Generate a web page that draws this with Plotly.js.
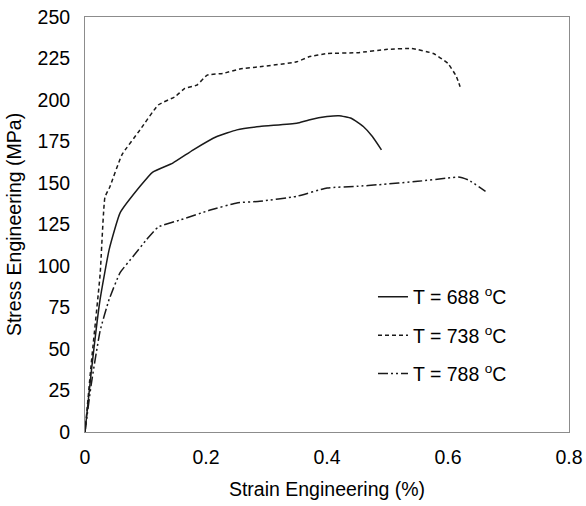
<!DOCTYPE html>
<html>
<head>
<meta charset="utf-8">
<script src="https://cdn.plot.ly/plotly-3.0.1.min.js"></script>
<style>html,body{margin:0;padding:0;background:#fff;}#chart{width:586px;height:506px;}</style>
</head>
<body>
<div id="chart"></div>
<script>
const names = ["T = 688 <sup>o</sup>C", "T = 738 <sup>o</sup>C", "T = 788 <sup>o</sup>C"];

const strain688 = [0, 0.01, 0.025, 0.04, 0.058, 0.091, 0.112, 0.145, 0.179, 0.218, 0.251, 0.289, 0.35, 0.37, 0.4, 0.42, 0.44, 0.46, 0.475, 0.49];
const stress688 = [0, 35, 80, 110, 132, 148, 156.6, 162, 170, 178, 182, 184, 186, 188, 190, 190.5, 189, 184, 178, 170];

const strain738 = [0, 0.01, 0.025, 0.033, 0.041, 0.061, 0.091, 0.121, 0.149, 0.165, 0.185, 0.202, 0.228, 0.256, 0.289, 0.35, 0.37, 0.4, 0.45, 0.5, 0.54, 0.576, 0.6, 0.614, 0.62];
const stress738 = [0, 40, 95, 141.5, 147.6, 167, 182, 197, 202, 207, 209, 215, 216, 218.7, 220, 223, 226, 228, 228.5, 230.5, 231, 228, 222, 214, 208];

const strain788 = [0, 0.01, 0.025, 0.04, 0.058, 0.08, 0.102, 0.121, 0.157, 0.207, 0.251, 0.289, 0.35, 0.4, 0.45, 0.486, 0.55, 0.6, 0.617, 0.634, 0.662];
const stress788 = [0, 28, 61, 80, 96, 106, 116, 123.5, 127.7, 133.7, 138, 139, 142, 147, 148, 149, 151, 153, 153.6, 151.8, 145];

const xTicks = [0, 0.2, 0.4, 0.6, 0.8];
const xTickLabels = ["0", "0.2", "0.4", "0.6", "0.8"];
const yTicks = [0, 25, 50, 75, 100, 125, 150, 175, 200, 225, 250];

const lineColor = "#1a1a1a";
const traces = [
  {x: strain688, y: stress688, name: names[0], mode: "lines", legendgroup: "a",
   line: {color: lineColor, width: 1.5, shape: "spline", smoothing: 0.4, dash: "solid"}},
  {x: strain738, y: stress738, name: names[1], mode: "lines", legendgroup: "b",
   line: {color: lineColor, width: 1.5, shape: "spline", smoothing: 0.4, dash: "4px,3px"}},
  {x: strain788, y: stress788, name: names[2], mode: "lines", legendgroup: "c",
   line: {color: lineColor, width: 1.5, shape: "spline", smoothing: 0.4, dash: "10px,3px,2px,3px,2px,3px"}}
];

const layout = {
  width: 586, height: 506,
  margin: {l: 85, r: 17, t: 17, b: 74},
  paper_bgcolor: "#fff", plot_bgcolor: "#fff",
  font: {family: "Liberation Sans, Arial, sans-serif", size: 19.5, color: "#000"},
  showlegend: true,
  legend: {x: 0.595, y: 0.372, xanchor: "left", yanchor: "top", bgcolor: "rgba(0,0,0,0)",
           font: {size: 19.5}, traceorder: "grouped", tracegroupgap: 10, itemwidth: 30},
  xaxis: {range: [0, 0.8], tickvals: xTicks, ticktext: xTickLabels, showgrid: false, zeroline: false,
          showline: true, mirror: true, linecolor: "#8c8c8c", linewidth: 1, ticks: "", ticklabelstandoff: 8,
          title: {text: "Strain Engineering (%)", font: {size: 19.5}, standoff: 14}},
  yaxis: {range: [0, 250], tickvals: yTicks, showgrid: false, zeroline: false,
          showline: true, mirror: true, linecolor: "#8c8c8c", linewidth: 1, ticks: "", ticklabelstandoff: 10,
          title: {text: "Stress Engineering (MPa)", font: {size: 19.5}, standoff: 10}}
};

Plotly.newPlot("chart", traces, layout, {displayModeBar: false, staticPlot: true});
</script>
</body>
</html>
